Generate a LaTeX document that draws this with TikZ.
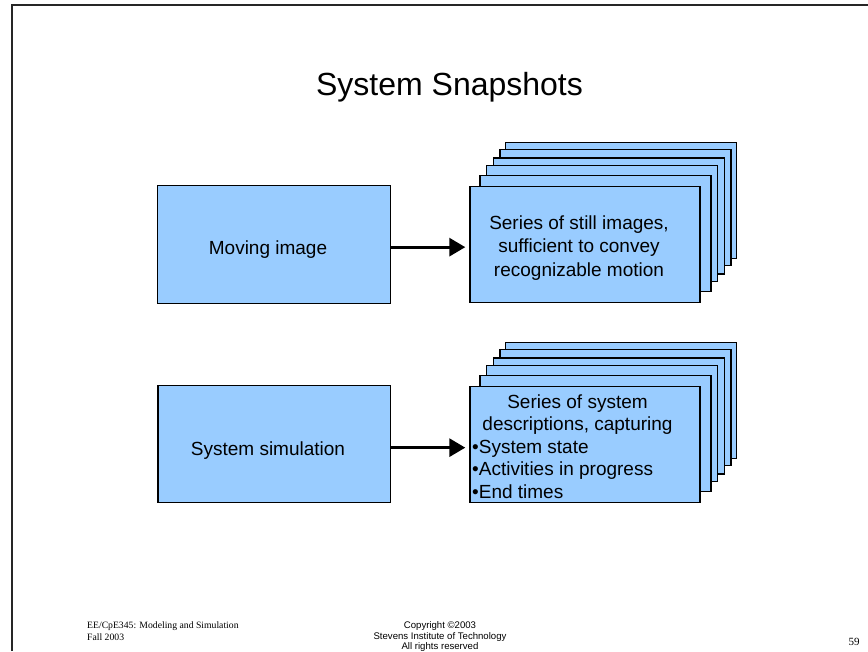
\documentclass[tikz,border=0pt]{standalone}
\usepackage{fontspec}
\setmainfont{Liberation Sans}
\newfontfamily\seriffont{Liberation Serif}
\usetikzlibrary{arrows.meta}
\definecolor{boxblue}{HTML}{99CCFF}
\tikzset{
  panel/.style={draw=black, fill=boxblue, line width=1.3pt, inner sep=0pt,
    anchor=north west, minimum width=231pt, minimum height=116pt},
  bodytext/.style={inner sep=0pt, anchor=base, font=\fontsize{19}{22.8}\selectfont},
  flow/.style={line width=3pt, -{Triangle[length=16pt,width=18pt]}, shorten >=4pt},
  foot/.style={inner sep=0pt, anchor=base}
}
\begin{document}
\begin{tikzpicture}[x=1pt, y=-1pt]
\useasboundingbox (0,0) rectangle (868,651);

% slide frame (top and left edges)
\draw[line width=2pt, black!85] (11.8,651) -- (11.8,5.2) -- (868,5.2);

% title
\node[inner sep=0pt, anchor=base, font=\fontsize{32}{38}\selectfont] (title) at (449.5,95) {System Snapshots};

% left-hand boxes
\node[panel, minimum width=232.5pt, minimum height=118pt] (mov) at (157,185) {};
\node[bodytext] (movtxt) at (268,254) {Moving image};
\node[panel, minimum width=232.5pt, minimum height=117pt] (sim) at (157.3,385) {};
\node[bodytext] (simtxt) at (268,455) {System simulation};

% stacked frames: back to front
\foreach \k/\dx/\dy in {5/35.7/44.3, 4/30/37, 3/23.4/28.7, 2/16.4/21, 1/10/11} {
  \node[panel] (top\k) at (469.3+\dx,186-\dy) {};
  \node[panel] (bot\k) at (469.3+\dx,386-\dy) {};
}
\node[panel, minimum width=230pt, minimum height=116pt] (top0) at (469.3,186) {};
\node[panel, minimum width=230pt, minimum height=116pt] (bot0) at (469.3,386) {};

% text of the upper stack
\node[bodytext] (ta) at (579,229.3) {Series of still images,};
\node[bodytext] (tb) at (579,252.7) {sufficient to convey};
\node[bodytext] (tc) at (579,276.3) {recognizable motion};

% text of the lower stack
\node[bodytext] (ba) at (577.5,408.3) {Series of system};
\node[bodytext] (bb) at (577.5,430.5) {descriptions, capturing};
\node[bodytext, anchor=base west] (bc) at (472,453) {•System state};
\node[bodytext, anchor=base west] (bd) at (472,475.5) {•Activities in progress};
\node[bodytext, anchor=base west] (be) at (472,498) {•End times};

% connectors
\draw[flow] ([yshift=-2.5pt]mov.east) -- ([yshift=-2.5pt]mov.east -| top0.west);
\draw[flow] ([yshift=-3.5pt]sim.east) -- ([yshift=-3.5pt]sim.east -| bot0.west);

% footer
\node[foot, anchor=base west, font=\seriffont\fontsize{9.7}{11.7}\selectfont] (fl1) at (87,628) {EE/CpE345: Modeling and Simulation};
\node[foot, anchor=base west, font=\seriffont\fontsize{9.7}{11.7}\selectfont] (fl2) at (87,640) {Fall 2003};
\node[foot, font=\fontsize{9.6}{11}\selectfont] (fc1) at (440,628) {Copyright ©2003};
\node[foot, font=\fontsize{9.6}{11}\selectfont] (fc2) at (440,639.5) {Stevens Institute of Technology};
\node[foot, font=\fontsize{9.6}{11}\selectfont] (fc3) at (440,649) {All rights reserved};
\node[foot, font=\seriffont\fontsize{11}{13}\selectfont] (pg) at (854,645) {59};
\end{tikzpicture}
\end{document}
